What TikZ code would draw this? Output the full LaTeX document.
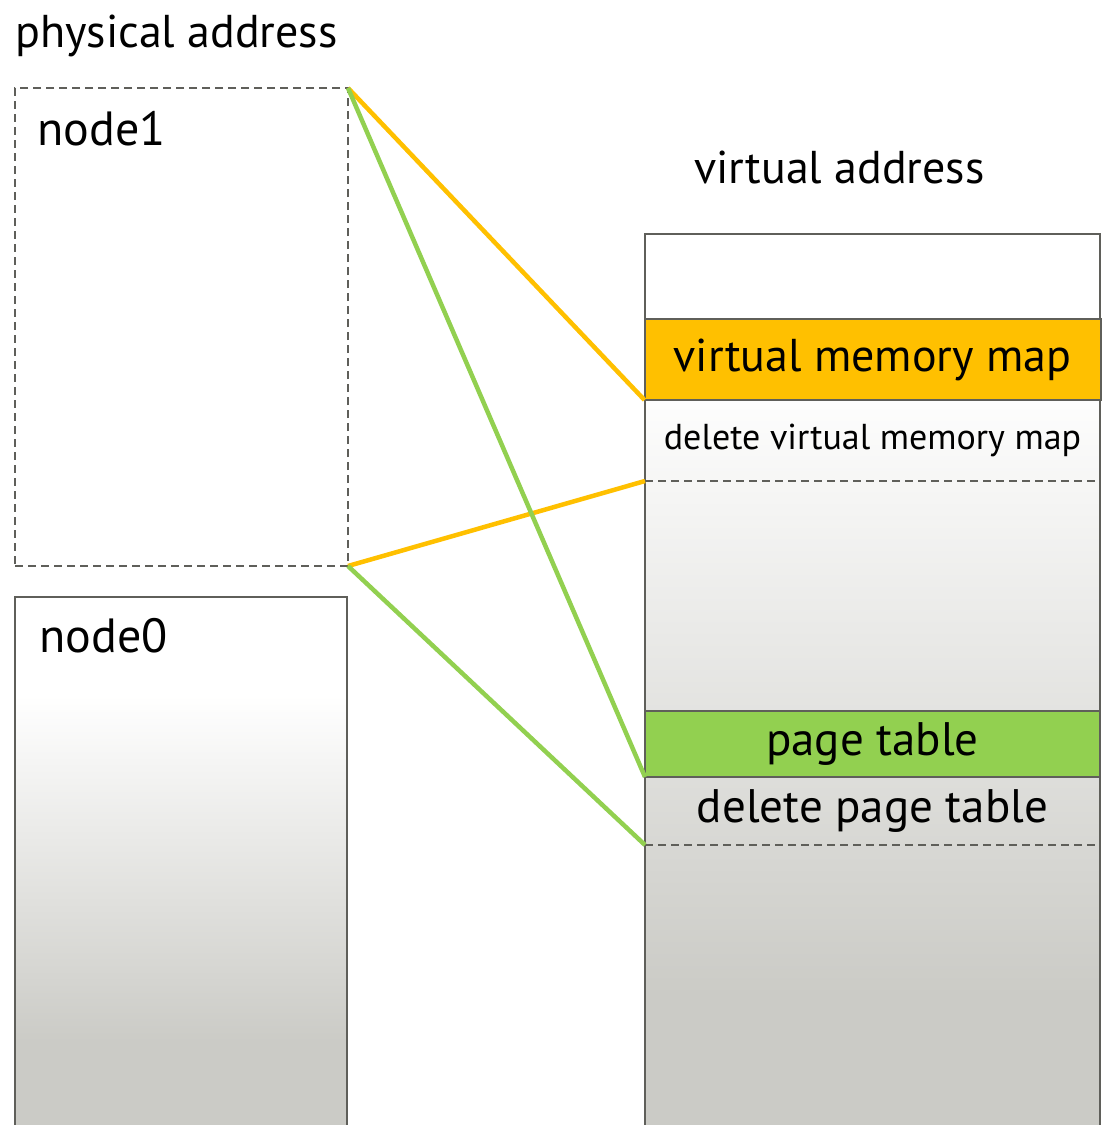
\documentclass[tikz,border=0pt]{standalone}
\usepackage{fontspec}
\setmainfont{PT Sans}
\usetikzlibrary{positioning}

\definecolor{framegray}{RGB}{95,95,90}
\definecolor{shadegray}{RGB}{203,203,198}
\definecolor{mapyellow}{RGB}{255,192,0}
\definecolor{tablegreen}{RGB}{146,208,80}

\pgfdeclareverticalshading{physshade}{100bp}{color(0bp)=(shadegray); color(34bp)=(shadegray); color(66bp)=(white); color(100bp)=(white)}
\pgfdeclareverticalshading{virtshade}{100bp}{color(0bp)=(shadegray); color(33bp)=(shadegray); color(67bp)=(white); color(100bp)=(white)}

\begin{document}
\begin{tikzpicture}[x=1pt, y=-1pt,
    box/.style={draw=framegray, line width=2pt, inner sep=0pt, outer sep=0pt},
    dashbox/.style={box, dash pattern=on 8pt off 5pt},
    headtext/.style={inner sep=0pt, anchor=base west, font=\fontsize{46}{50}\selectfont},
    mapline/.style={draw=mapyellow, line width=4.5pt},
    tableline/.style={draw=tablegreen, line width=4.5pt}]

  \useasboundingbox (0,0) rectangle (1105,1125);
  \clip (0,0) rectangle (1105,1125);

  %--- Physical address side
  \node[headtext] (phys) at (15,47) {physical address};
  \node[dashbox, minimum width=333pt, minimum height=478pt] (node1) at (181.5,327) {};
  \node[headtext, font=\fontsize{48}{52}\selectfont] (node1text) at ([xshift=22pt, yshift=-57pt]node1.north west) {node1};
  \node[box, shade, shading=physshade, minimum width=332pt, minimum height=543pt,
        below=31pt of node1.south west, anchor=north west] (node0) {};
  \node[headtext, font=\fontsize{48}{52}\selectfont] (node0text) at ([xshift=24pt, yshift=-55pt]node0.north west) {node0};

  %--- Virtual address side
  \node[headtext] (virt) at (694,183) {virtual address};
  \node[box, shade, shading=virtshade, minimum width=455pt, minimum height=906pt] (vspace) at (872.5,687) {};
  \node[box, fill=mapyellow, minimum width=456pt, minimum height=81pt,
        font=\fontsize{46}{50}\selectfont, below=85pt of vspace.north] (vmm) {virtual memory map};
  \node[dashbox, minimum width=455pt, minimum height=81pt,
        font=\fontsize{36}{40}\selectfont, below=0pt of vmm] (dvmm) {delete virtual memory map};
  \node[box, fill=tablegreen, minimum width=455pt, minimum height=66pt,
        font=\fontsize{47}{50}\selectfont, below=230pt of dvmm] (ptab) {page table};
  \node[dashbox, minimum width=455pt, minimum height=68pt,
        font=\fontsize{47}{50}\selectfont, below=0pt of ptab] (dptab) {delete page table};

  %--- Mapping lines
  \draw[mapline] (node1.north east) -- (vmm.south west);
  \draw[mapline] (node1.south east) -- (dvmm.south west);
  \draw[tableline] (node1.north east) -- (ptab.south west);
  \draw[tableline] (node1.south east) -- (dptab.south west);

\end{tikzpicture}
\end{document}
